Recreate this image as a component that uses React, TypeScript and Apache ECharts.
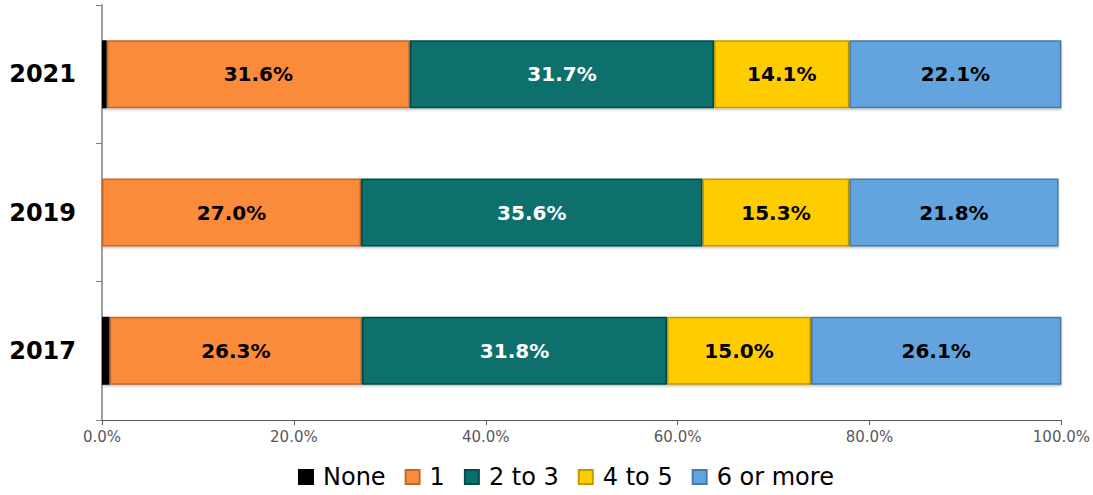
import React, { useEffect, useRef } from "react";
import * as echarts from "echarts";

const years = ["2017", "2019", "2021"];
const seriesNames = ["None", "1", "2 to 3", "4 to 5", "6 or more"];
const noneVals = [0.8, 0, 0.5];
const oneVals = [26.3, 27.0, 31.6];
const twoToThreeVals = [31.8, 35.6, 31.7];
const fourToFiveVals = [15.0, 15.3, 14.1];
const sixPlusVals = [26.1, 21.8, 22.1];
const xTicks = [0, 20, 40, 60, 80, 100];

const colors = ["#000000", "#F98B3A", "#07706C", "#FFCC00", "#63A3DE"];
const borders = ["#000000", "#C0692C", "#044C49", "#C09A00", "#4479A8"];
const labelColors = ["#000", "#000", "#fff", "#000", "#000"];

export default function App() {
  const ref = useRef<HTMLDivElement>(null);
  useEffect(() => {
    const chart = echarts.init(ref.current!, null, { renderer: "svg" });
    const all = [noneVals, oneVals, twoToThreeVals, fourToFiveVals, sixPlusVals];
    chart.setOption({
      animation: false,
      grid: { left: 102, right: 31, top: 5, bottom: 75, containLabel: false },
      legend: {
        bottom: 1,
        left: 293,
        itemWidth: 14,
        itemHeight: 14,
        itemGap: 19,
        icon: "rect",
        textStyle: { fontFamily: "DejaVu Sans", fontSize: 24, color: "#000", padding: [0, 0, 0, 5] },
        data: seriesNames,
      },
      xAxis: {
        type: "value",
        min: 0,
        max: 100,
        interval: 20,
        axisLine: { show: true, lineStyle: { color: "#595959", width: 1 } },
        axisTick: { show: true, length: 5, lineStyle: { color: "#595959" } },
        splitLine: { show: false },
        axisLabel: {
          formatter: (v: number) => (xTicks.includes(v) ? v.toFixed(1) + "%" : ""),
          color: "#595959",
          fontFamily: "DejaVu Sans",
          fontSize: 15,
          margin: 9,
        },
      },
      yAxis: {
        type: "category",
        data: years,
        axisLine: { show: true, lineStyle: { color: "#808080", width: 1.5 } },
        axisTick: { show: true, length: 6, lineStyle: { color: "#808080" } },
        axisLabel: {
          color: "#000",
          fontFamily: "DejaVu Sans",
          fontWeight: "bold",
          fontSize: 24,
          margin: 26,
        },
      },
      series: seriesNames.map((name, i) => ({
        name,
        type: "bar",
        stack: "total",
        barWidth: 68,
        data: all[i],
        itemStyle: {
          color: colors[i],
          borderColor: borders[i],
          borderWidth: 1.5,
          shadowColor: "rgba(0,0,0,0.25)",
          shadowBlur: 2,
          shadowOffsetY: 1.5,
        },
        label: {
          show: i > 0,
          position: "inside",
          formatter: (p: any) => p.value.toFixed(1) + "%",
          color: labelColors[i],
          fontFamily: "DejaVu Sans",
          fontWeight: "bold",
          fontSize: 20,
        },
      })),
    });
    return () => chart.dispose();
  }, []);
  return <div ref={ref} style={{ width: 1093, height: 495, position: "absolute", left: 0, top: 0 }} />;
}
